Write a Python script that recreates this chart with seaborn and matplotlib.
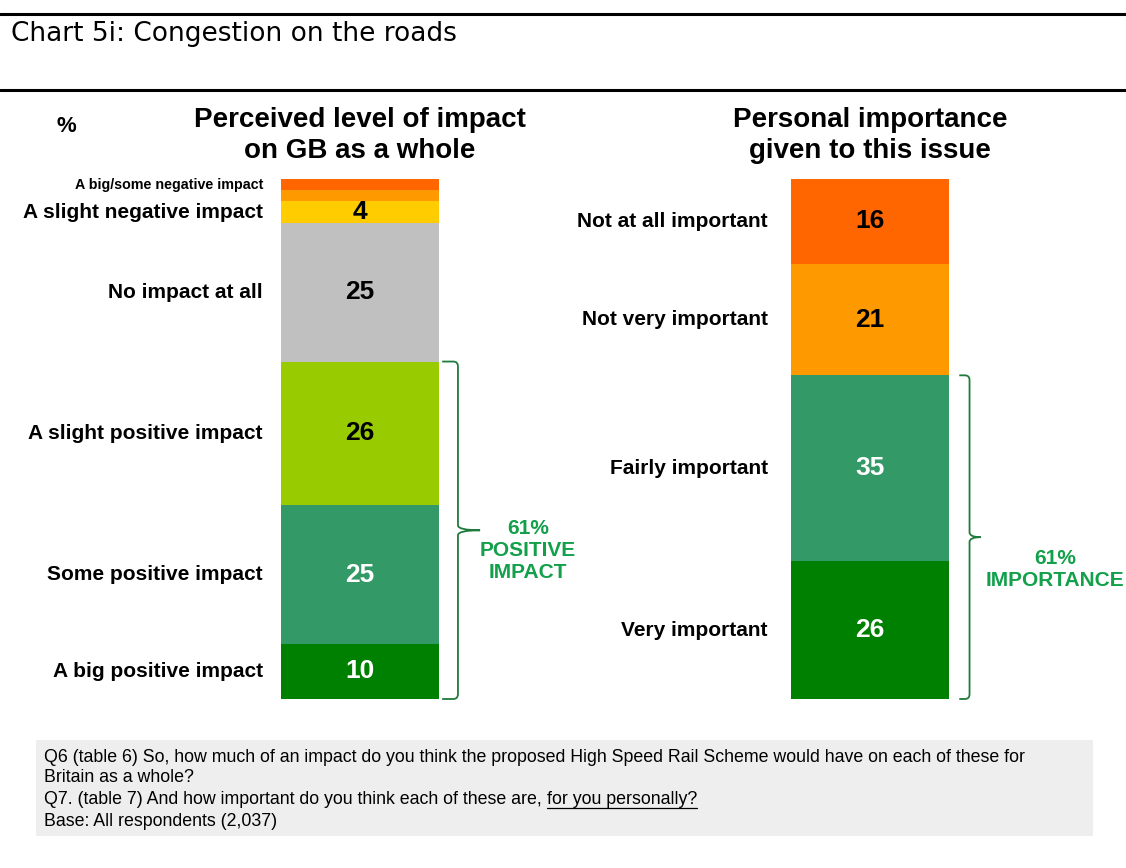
import matplotlib
matplotlib.use("Agg")
import matplotlib.pyplot as plt
import matplotlib.transforms as mtransforms
from matplotlib.path import Path
from matplotlib.patches import PathPatch, Rectangle
from matplotlib import font_manager
import seaborn as sns

# ---- data (bottom of the stack first) ----
impact_labels = ["A big positive impact", "Some positive impact", "A slight positive impact",
                 "No impact at all", "A slight negative impact", "", "A big/some negative impact"]
impact_values = [10, 25, 26, 25, 4, 2, 2]
impact_colors = ["#008000", "#339966", "#99CC00", "#C0C0C0", "#FFCC00", "#FF9900", "#FF6600"]

importance_labels = ["Very important", "Fairly important", "Not very important", "Not at all important"]
importance_values = [26, 35, 21, 16]
importance_colors = ["#008000", "#339966", "#FF9900", "#FF6600"]

impact_net = 61
importance_net = 61

W, H = 1126, 868

sns.set_theme(style="white")


def pick(*names):
    for n in names:
        try:
            font_manager.findfont(n, fallback_to_default=False)
            return n
        except Exception:
            pass
    return "DejaVu Sans"


ARIAL = pick("Liberation Sans", "Arial")
NARROW = pick("Liberation Sans Narrow", "Liberation Sans")
plt.rcParams["font.family"] = [ARIAL, "DejaVu Sans"]
plt.rcParams["text.color"] = "black"

fig = plt.figure(figsize=(W / 100, H / 100), dpi=100)


def fx(x):
    return x / W


def fy(y):
    return 1 - y / H


# header lines + title
for yy in (14, 90):
    fig.add_artist(plt.Line2D([0, 1], [fy(yy), fy(yy)], color="black", lw=2.2,
                              transform=fig.transFigure))
fig.text(fx(11), fy(34), "Chart 5i: Congestion on the roads", family="DejaVu Sans",
         fontsize=19, va="center", ha="left")

fig.text(fx(66), fy(127), "%", fontsize=16, fontweight="bold", ha="center", va="center")


def brace(ax, y0, y1, x0, xv, xt):
    tr = mtransforms.blended_transform_factory(ax.transAxes, ax.transData)
    ym = (y0 + y1) / 2
    r = 0.9
    verts = [(x0, y1), (xv - 0.03, y1), (xv, y1), (xv, y1 - r),
             (xv, ym + r), (xv, ym), (xt, ym),
             (xv, ym), (xv, ym - r),
             (xv, y0 + r), (xv, y0), (xv - 0.03, y0), (x0, y0)]
    codes = [Path.MOVETO, Path.LINETO, Path.CURVE3, Path.CURVE3,
             Path.LINETO, Path.CURVE3, Path.CURVE3,
             Path.CURVE3, Path.CURVE3,
             Path.LINETO, Path.CURVE3, Path.CURVE3, Path.LINETO]
    ax.add_patch(PathPatch(Path(verts, codes), facecolor="none", edgecolor="#1E7B3C",
                           lw=1.3, transform=tr, clip_on=False))


def panel(left_px, labels, values, colors, title, label_x, small_first):
    ax = fig.add_axes([fx(left_px), fy(699), fx(158), 520 / H])
    bottom = 0
    centers = []
    for v, c in zip(values, colors):
        sns.barplot(x=["bar"], y=[v], bottom=bottom, color=c, width=1,
                    linewidth=0, saturation=1, ax=ax)
        centers.append(bottom + v / 2)
        bottom += v
    ax.set_xlim(-0.5, 0.5)
    ax.set_ylim(0, bottom)
    ax.axis("off")

    tr = mtransforms.blended_transform_factory(ax.transAxes, ax.transData)
    for lab, v, c, cy in zip(labels, values, colors, centers):
        if v >= 4:
            tc = "white" if c in ("#008000", "#339966") else "black"
            ax.text(0.5, cy, str(v), transform=tr, ha="center", va="center",
                    family=NARROW, fontweight="bold", fontsize=19, color=tc)
        if lab:
            fs = 10.3 if lab == small_first else 15
            ax.text(label_x, cy, lab, transform=tr, ha="right", va="center",
                    fontweight="bold", fontsize=fs)
    fig.text(fx(left_px + 79), fy(135.5), title, ha="center", va="center",
             fontsize=20, fontweight="bold", linespacing=1.27)
    return ax


ax1 = panel(281, impact_labels, impact_values, impact_colors,
            "Perceived level of impact\non GB as a whole", -0.114, "A big/some negative impact")
ax2 = panel(791, importance_labels, importance_values, importance_colors,
            "Personal importance\ngiven to this issue", -0.146, None)

brace(ax1, 0, sum(impact_values[:3]), 1.02, 1.12, 1.26)
brace(ax2, 0, sum(importance_values[:2]), 1.065, 1.13, 1.2)

green = "#12A04A"
fig.text(fx(528), fy(551), f"{impact_net}%\nPOSITIVE\nIMPACT", ha="center", va="center",
         fontsize=15, fontweight="bold", color=green, linespacing=1.2)
fig.text(fx(1055), fy(569), f"{importance_net}%\nIMPORTANCE", ha="center", va="center",
         fontsize=15, fontweight="bold", color=green, linespacing=1.2)

# footer box
fig.add_artist(Rectangle((fx(36), fy(836)), fx(1093 - 36), (836 - 740) / H,
                         transform=fig.transFigure, facecolor="#EEEEEE", edgecolor="none"))
foot = dict(family=NARROW, fontsize=12.8, ha="left", va="center")
fig.text(fx(44), fy(757), "Q6 (table 6) So, how much of an impact do you think the proposed "
         "High Speed Rail Scheme would have on each of these for", **foot)
fig.text(fx(44), fy(778), "Britain as a whole?", **foot)
t1 = fig.text(fx(44), fy(800), "Q7. (table 7) And how important do you think each of these are, ", **foot)
fig.text(fx(44), fy(822), "Base: All respondents (2,037)", **foot)

fig.canvas.draw()
bb = t1.get_window_extent()
t2 = fig.text(bb.x1 / W, fy(800), "for you personally?", **foot)
fig.canvas.draw()
bb2 = t2.get_window_extent()
fig.add_artist(plt.Line2D([bb2.x0 / W, bb2.x1 / W], [(bb2.y0 + 1) / H, (bb2.y0 + 1) / H],
                          color="black", lw=0.9, transform=fig.transFigure))

fig.savefig("out.png", dpi=100)
